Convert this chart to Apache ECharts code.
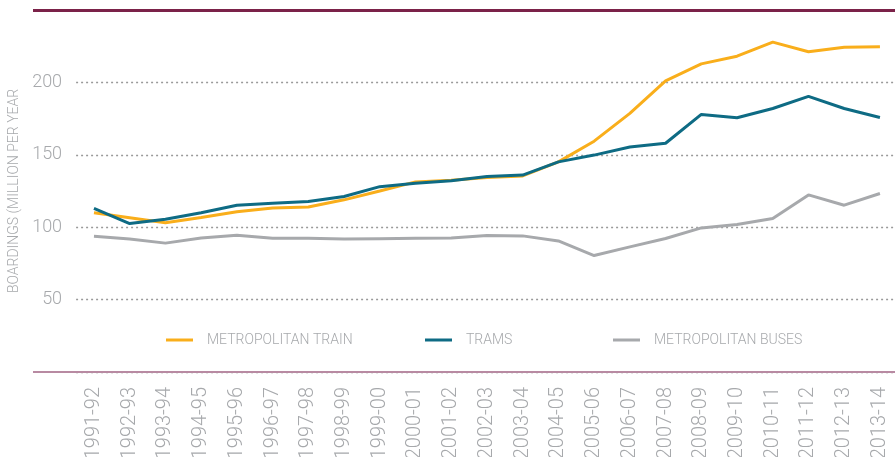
<!DOCTYPE html>
<html>
<head>
<meta charset="utf-8">
<script src="https://cdn.jsdelivr.net/npm/echarts@6/dist/echarts.min.js"></script>
<style>
html,body{margin:0;padding:0;background:#fff;}
#c{width:895px;height:457px;}
</style>
</head>
<body>
<div id="c"></div>
<script>
const categories = ["1991-92","1992-93","1993-94","1994-95","1995-96","1996-97","1997-98","1998-99","1999-00","2000-01","2001-02","2002-03","2003-04","2004-05","2005-06","2006-07","2007-08","2008-09","2009-10","2010-11","2011-12","2012-13","2013-14"];
const trainValues = [110,106.5,103,106.7,110.6,113.3,114,118.9,125,131.3,132.5,134.3,135.4,145.1,159.4,178.6,201,212.8,218.1,227.8,221.2,224.3,224.6];
const tramValues  = [113,102.5,105.5,110,115.2,116.6,117.7,121.2,128,130.4,132,135,136,145.1,149.8,155.4,158,177.9,175.6,182,190.3,182,175.8];
const busValues   = [93.8,91.9,89,92.6,94.5,92.4,92.4,91.8,92.1,92.4,92.6,94.2,94,90.5,80.4,86.4,92.2,99.5,101.8,106,122.3,115.2,123.3];
const yTicks = [50,100,150,200];
const seriesNames = ["METROPOLITAN TRAIN","TRAMS","METROPOLITAN BUSES"];
const yAxisTitle = "BOARDINGS (MILLION PER YEAR";

const FONT = "Roboto";
const TXT = "#a7a9ac";
const colors = ["#f9ae1b","#0e6b84","#a7a9ac"];

const chart = echarts.init(document.getElementById('c'), null, {renderer:'canvas'});
function legendFor(i, left){
  return {
    data:[{name:seriesNames[i], icon:'rect'}],
    left:left, top:333, padding:0, itemWidth:27, itemHeight:3,
    selectedMode:false,
    textStyle:{color:TXT, fontFamily:FONT, fontWeight:300, fontSize:14, padding:[0,0,0,9]}
  };
}
chart.setOption({
  animation:false,
  textStyle:{fontFamily:FONT},
  grid:{left:76.1, top:10, width:821.7, height:362, containLabel:false, outerBoundsMode:'none'},
  legend:[legendFor(0,166), legendFor(1,425), legendFor(2,613)],
  xAxis:{
    type:'category', data:categories, boundaryGap:true,
    axisLine:{show:false}, axisTick:{show:false},
    axisLabel:{rotate:90, margin:15, fontSize:20, color:TXT, fontFamily:FONT, fontWeight:300, interval:0}
  },
  yAxis:{
    type:'value', min:0, max:250, interval:50,
    name:yAxisTitle, nameLocation:'middle', nameGap:55, nameRotate:90,
    nameTextStyle:{color:TXT, fontSize:14, fontFamily:FONT, fontWeight:300},
    axisLine:{show:false}, axisTick:{show:false},
    axisLabel:{margin:14, fontSize:18, color:TXT, fontFamily:FONT, fontWeight:300,
      formatter:function(v){return yTicks.indexOf(v)>=0 ? String(v) : '';}},
    splitLine:{show:true, lineStyle:{type:[2,3], color:'#999999', width:1.3}}
  },
  graphic:[
    {type:'line', z:100, shape:{x1:33,y1:10.5,x2:895,y2:10.5}, style:{stroke:'#7b2249', lineWidth:3}},
    {type:'line', z:100, shape:{x1:33,y1:372,x2:895,y2:372}, style:{stroke:'#b88aa2', lineWidth:2}}
  ],
  series:[
    {name:seriesNames[0], type:'line', data:trainValues, symbol:'none', lineStyle:{color:colors[0], width:3}, itemStyle:{color:colors[0]}, z:3},
    {name:seriesNames[1], type:'line', data:tramValues, symbol:'none', lineStyle:{color:colors[1], width:3}, itemStyle:{color:colors[1]}, z:4},
    {name:seriesNames[2], type:'line', data:busValues, symbol:'none', lineStyle:{color:colors[2], width:3}, itemStyle:{color:colors[2]}, z:2}
  ]
});
</script>
</body>
</html>
